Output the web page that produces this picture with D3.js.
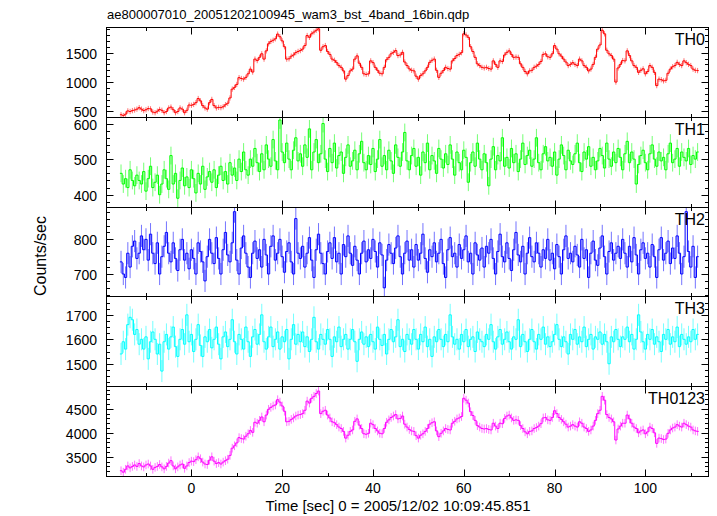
<!DOCTYPE html>
<html><head><meta charset="utf-8">
<script src="https://cdn.jsdelivr.net/npm/d3@7"></script>
<style>
body{margin:0;background:#fff}
text{font-family:"Liberation Sans",Arial,Helvetica,sans-serif;fill:#000}
</style>
</head><body>
<svg id="c" width="717" height="516"></svg>
<script>
const title = "ae800007010_20051202100945_wam3_bst_4band_16bin.qdp";
const xLabel = "Time [sec] 0 = 2005/12/02 10:09:45.851";
const yLabel = "Counts/sec";
const bands = ["TH0", "TH1", "TH2", "TH3", "TH0123"];
const binStart = -15.5;   // centre of first bin (sec)
const binWidth = 0.5;     // sec

const th0 = [
445,430,455,510,500,515,525,540,565,540,
515,530,550,545,490,480,505,535,520,480,
500,560,575,530,480,500,560,540,480,520,
610,605,620,650,720,680,600,560,540,650,
705,600,560,570,565,580,615,640,730,880,
910,960,1075,1060,1050,1080,1140,1220,1170,1390,
1365,1420,1480,1390,1530,1650,1690,1710,1735,1815,
1770,1700,1600,1390,1395,1440,1460,1500,1520,1535,
1560,1620,1790,1760,1820,1850,1880,1905,1540,1600,
1620,1520,1470,1390,1370,1330,1280,1250,1190,1050,
1110,1190,1220,1390,1445,1320,1250,1140,1130,1140,
1360,1330,1250,1200,1150,1140,1250,1380,1420,1480,
1505,1535,1450,1460,1505,1340,1280,1225,1200,1190,
1100,1050,1110,1140,1190,1250,1335,1370,1390,1200,
1080,1150,1195,1250,1230,1220,1360,1400,1450,1470,
1500,1820,1800,1760,1600,1520,1420,1310,1280,1250,
1240,1250,1230,1220,1360,1300,1250,1360,1350,1460,
1505,1530,1470,1420,1425,1420,1310,1250,1180,1140,
1190,1200,1250,1270,1300,1350,1470,1480,1430,1420,
1480,1620,1560,1480,1440,1390,1340,1280,1300,1330,
1300,1280,1390,1360,1280,1250,1190,1220,1300,1420,
1560,1630,1880,1820,1540,1480,1450,1390,1000,1240,
1300,1365,1360,1530,1450,1360,1280,1250,1165,1200,
1225,1140,1180,1280,1250,1165,940,1050,1040,1020,
1030,1150,1220,1260,1280,1335,1300,1280,1360,1330,
1300,1280,1220,1200,1195];

const th1 = [
460,430,445,420,470,440,425,455,440,430,
465,410,445,480,420,435,455,400,430,470,
445,415,510,430,460,390,440,475,425,450,
420,470,445,405,460,430,480,415,450,465,
435,470,420,455,480,440,465,430,490,455,
475,440,500,465,520,470,455,500,480,530,
490,465,515,470,540,500,480,555,495,470,
610,520,490,545,500,470,525,560,495,515,
480,540,505,585,470,520,555,490,515,600,
500,465,530,490,545,475,510,520,460,505,
540,480,495,525,470,515,550,490,470,510,
485,530,465,500,555,480,510,470,525,495,
460,540,505,480,520,575,495,470,510,530,
480,505,455,520,490,545,470,510,495,460,
530,500,475,515,485,540,500,455,520,490,
470,525,505,435,490,520,480,545,500,470,
515,490,425,500,535,470,510,495,560,480,
505,475,530,490,515,465,500,545,485,510,
525,480,500,560,490,470,515,535,495,505,
480,520,455,500,540,510,470,525,495,485,
515,545,490,465,520,500,535,480,505,470,
495,530,510,475,545,500,480,520,490,530,
505,470,515,550,490,520,500,430,485,510,
525,490,470,515,540,500,480,520,495,505,
470,515,545,490,500,530,480,520,505,495,
530,485,510,500,520];

const th2 = [
735,700,690,760,720,780,795,745,760,810,
770,800,740,815,760,730,790,700,750,780,
820,760,735,790,745,710,770,800,740,760,
715,770,745,700,790,765,735,680,750,800,
760,730,805,745,700,770,820,755,735,790,
880,740,700,775,810,760,720,690,760,795,
745,770,720,800,755,700,780,810,740,760,
800,750,705,765,790,735,700,860,760,745,
780,720,760,805,740,690,770,815,760,730,
700,765,790,745,805,735,760,700,785,750,
810,760,725,780,740,700,760,795,735,770,
745,800,765,720,790,755,660,740,785,760,
730,775,810,750,700,760,795,740,770,720,
785,740,760,815,745,705,770,750,790,735,
760,800,730,690,770,805,750,760,720,785,
745,770,810,735,760,700,790,755,740,775,
720,780,760,800,745,700,765,815,750,735,
790,745,710,770,820,755,735,780,700,760,
805,750,735,790,760,720,770,745,800,740,
760,715,785,750,700,770,810,745,760,735,
780,755,720,800,745,770,690,760,795,740,
725,775,810,750,700,765,790,740,760,780,
745,800,760,720,780,735,805,755,700,770,
790,745,760,720,785,750,690,770,805,740,
760,795,730,775,745,810,760,700,750,880,
765,720,780,690,750];

const th3 = [
1540,1590,1560,1660,1690,1680,1620,1640,1580,1600,
1560,1610,1520,1590,1630,1600,1540,1580,1470,1590,
1620,1560,1610,1650,1570,1530,1600,1640,1580,1700,
1590,1620,1550,1600,1660,1575,1530,1610,1590,1640,
1565,1600,1650,1580,1520,1610,1630,1570,1600,1680,
1590,1540,1620,1600,1560,1650,1590,1530,1610,1640,
1580,1620,1700,1590,1560,1610,1650,1570,1600,1630,
1560,1610,1590,1640,1520,1600,1660,1580,1620,1590,
1630,1570,1610,1550,1600,1690,1590,1560,1620,1600,
1580,1640,1600,1530,1610,1590,1650,1570,1600,1620,
1560,1600,1640,1590,1510,1600,1630,1580,1610,1570,
1620,1590,1560,1650,1600,1575,1620,1540,1600,1640,
1590,1610,1680,1570,1600,1550,1620,1600,1580,1640,
1600,1560,1620,1590,1650,1570,1600,1530,1610,1590,
1640,1600,1570,1620,1590,1700,1610,1580,1600,1560,
1620,1590,1640,1570,1600,1610,1550,1630,1600,1590,
1570,1620,1600,1660,1590,1560,1610,1640,1580,1600,
1630,1590,1560,1610,1600,1680,1570,1620,1590,1550,
1600,1640,1590,1560,1620,1600,1650,1580,1610,1570,
1590,1620,1660,1600,1570,1610,1590,1540,1620,1600,
1640,1580,1610,1590,1650,1570,1600,1620,1560,1610,
1600,1630,1580,1620,1590,1500,1610,1590,1640,1600,
1570,1610,1600,1650,1590,1620,1560,1600,1700,1630,
1590,1560,1620,1600,1640,1580,1610,1590,1550,1620,
1600,1640,1580,1610,1590,1650,1570,1620,1600,1580,
1610,1590,1640,1600,1620];

const th0123 = [
3210,3180,3240,3310,3270,3300,3330,3300,3360,3310,
3290,3330,3350,3310,3240,3280,3300,3340,3290,3250,
3300,3370,3420,3310,3250,3290,3330,3350,3260,3310,
3380,3410,3400,3440,3500,3460,3390,3350,3340,3430,
3500,3410,3360,3380,3350,3390,3420,3450,3530,3680,
3730,3790,3900,3880,3870,3930,3980,4050,4010,4220,
4200,4260,4330,4230,4370,4490,4530,4560,4580,4690,
4640,4560,4450,4230,4240,4280,4310,4350,4370,4380,
4400,4470,4660,4620,4720,4760,4820,4870,4400,4450,
4470,4370,4310,4230,4210,4170,4120,4090,4030,3890,
3950,4030,4060,4240,4290,4160,4090,3980,3970,3990,
4200,4170,4090,4040,3990,3980,4090,4220,4270,4320,
4350,4380,4290,4300,4350,4180,4120,4070,4040,4030,
3940,3890,3950,3980,4030,4090,4180,4210,4230,4040,
3920,3990,4040,4090,4070,4060,4200,4240,4290,4310,
4340,4720,4680,4620,4440,4360,4260,4150,4120,4090,
4080,4090,4070,4060,4200,4140,4090,4200,4190,4300,
4350,4370,4310,4260,4270,4260,4150,4090,4020,3980,
4030,4040,4090,4110,4140,4190,4310,4320,4270,4260,
4320,4460,4400,4320,4280,4230,4180,4120,4140,4170,
4140,4120,4230,4200,4120,4090,4030,4060,4140,4260,
4400,4470,4760,4680,4380,4320,4290,4230,3850,4080,
4140,4200,4200,4370,4290,4200,4120,4090,4000,4040,
4060,3980,4020,4120,4090,4000,3780,3890,3880,3860,
3870,3990,4060,4100,4120,4170,4140,4120,4200,4170,
4140,4120,4060,4040,4030];

const seriesValues = [th0, th1, th2, th3, th0123];
const errors = [45, 25, 32, 45, 90];          // typical 1-sigma error per band (counts/sec)
const colors = ["#ff0000", "#00ff00", "#0000ff", "#00ffff", "#ff00ff"];
const yDomains = [[398, 1927], [364, 617], [635, 892], [1407, 1775], [3090, 4965]];
const yMajorTicks = [[500, 1000, 1500], [400, 500, 600], [700, 800], [1500, 1600, 1700], [3500, 4000, 4500]];
const yMinorStep = [100, 20, 20, 25, 100];
const xDomain = [-18.7, 113.9];
const xMajorTicks = [0, 20, 40, 60, 80, 100];
const xMinorTicks = [-10, 10, 30, 50, 70, 90, 110];

const svg = d3.select("#c");
const L = 106.5, R = 708.5, T = 27, B = 476;
const ph = (B - T) / bands.length;
const x = d3.scaleLinear().domain(xDomain).range([L, R]);

svg.append("text").attr("x", 107).attr("y", 19).attr("font-size", 13).text(title);

const majLen = 7, minLen = 3.5;

bands.forEach((name, i) => {
  const top = Math.round(T + i * ph) + 0.5;
  const bot = Math.round(T + (i + 1) * ph) + 0.5;
  const y = d3.scaleLinear().domain(yDomains[i]).range([bot, top]);
  const g = svg.append("g");
  const clipId = "clip" + i;
  svg.append("clipPath").attr("id", clipId).append("rect")
    .attr("x", L).attr("y", top).attr("width", R - L).attr("height", bot - top);

  const vals = seriesValues[i];
  const pts = vals.map((v, k) => ({t: binStart + k * binWidth, v}));
  const dg = g.append("g").attr("clip-path", `url(#${clipId})`);
  // error bars
  dg.selectAll("line.err").data(pts).enter().append("line")
    .attr("x1", d => x(d.t)).attr("x2", d => x(d.t))
    .attr("y1", d => y(d.v - errors[i])).attr("y2", d => y(d.v + errors[i]))
    .attr("stroke", colors[i]).attr("stroke-opacity", 0.55).attr("stroke-width", 1);
  // step line
  const stepPts = [];
  pts.forEach(d => { stepPts.push([d.t - binWidth / 2, d.v]); stepPts.push([d.t + binWidth / 2, d.v]); });
  dg.append("path").datum(stepPts)
    .attr("d", d3.line().x(d => x(d[0])).y(d => y(d[1])))
    .attr("fill", "none").attr("stroke", colors[i]).attr("stroke-width", 1);

  // frame
  g.append("rect").attr("x", L).attr("y", top).attr("width", R - L).attr("height", bot - top)
    .attr("fill", "none").attr("stroke", "#000").attr("stroke-width", 1);

  // y ticks
  const [y0, y1] = yDomains[i];
  const minor = d3.range(Math.ceil(y0 / yMinorStep[i]) * yMinorStep[i], y1, yMinorStep[i])
    .filter(v => !yMajorTicks[i].includes(v));
  const tk = g.append("g").attr("stroke", "#000").attr("stroke-width", 1);
  yMajorTicks[i].forEach(v => {
    const yy = Math.round(y(v)) + 0.5;
    tk.append("line").attr("x1", L).attr("x2", L + majLen).attr("y1", yy).attr("y2", yy);
    tk.append("line").attr("x1", R).attr("x2", R - majLen).attr("y1", yy).attr("y2", yy);
    g.append("text").attr("x", 97).attr("y", yy).attr("dy", "0.36em")
      .attr("text-anchor", "end").attr("font-size", 14).text(v);
  });
  minor.forEach(v => {
    const yy = Math.round(y(v)) + 0.5;
    tk.append("line").attr("x1", L).attr("x2", L + minLen).attr("y1", yy).attr("y2", yy);
    tk.append("line").attr("x1", R).attr("x2", R - minLen).attr("y1", yy).attr("y2", yy);
  });
  // x ticks top & bottom of each panel
  xMajorTicks.forEach(v => {
    const xx = Math.round(x(v)) + 0.5;
    tk.append("line").attr("x1", xx).attr("x2", xx).attr("y1", top).attr("y2", top + majLen);
    tk.append("line").attr("x1", xx).attr("x2", xx).attr("y1", bot).attr("y2", bot - majLen);
  });
  xMinorTicks.forEach(v => {
    if (v < xDomain[0] || v > xDomain[1]) return;
    const xx = Math.round(x(v)) + 0.5;
    tk.append("line").attr("x1", xx).attr("x2", xx).attr("y1", top).attr("y2", top + minLen);
    tk.append("line").attr("x1", xx).attr("x2", xx).attr("y1", bot).attr("y2", bot - minLen);
  });

  g.append("text").attr("x", 705).attr("y", top + 17).attr("text-anchor", "end")
    .attr("font-size", 16).text(name);

  if (i === bands.length - 1) {
    xMajorTicks.forEach(v => {
      svg.append("text").attr("x", x(v)).attr("y", 493).attr("text-anchor", "middle")
        .attr("font-size", 14).text(v);
    });
  }
});

svg.append("text").attr("x", 398).attr("y", 511).attr("text-anchor", "middle")
  .attr("font-size", 15).text(xLabel);
svg.append("text").attr("transform", "translate(46,256) rotate(-90)")
  .attr("text-anchor", "middle").attr("font-size", 16).text(yLabel);
</script>
</body></html>
